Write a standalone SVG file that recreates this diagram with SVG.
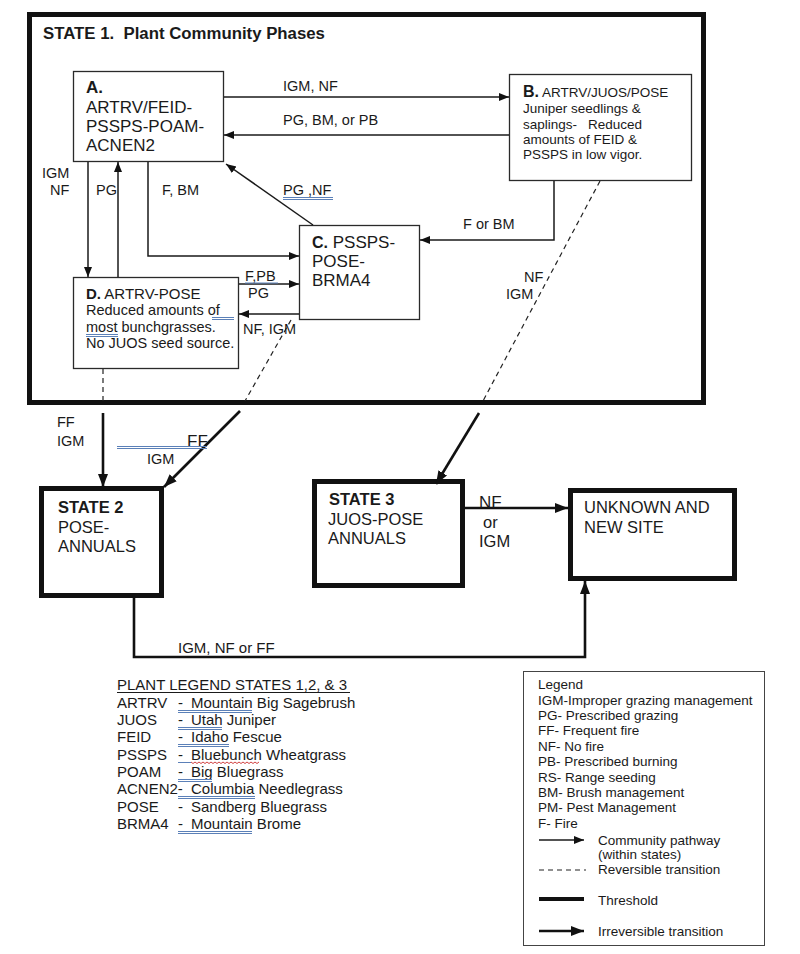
<svg xmlns="http://www.w3.org/2000/svg" width="800" height="954" viewBox="0 0 800 954">
<style>
text{font-family:"Liberation Sans",Arial,sans-serif;fill:#1a1a1a;}
.b{font-weight:bold;}
.box{fill:#fff;stroke:#2a2a2a;stroke-width:1.3;}
.state{fill:#fff;stroke:#111;stroke-width:5;}
.ln{fill:none;stroke:#1a1a1a;stroke-width:1.5;}
.tr{fill:none;stroke:#111;stroke-width:2.6;}
.ds{fill:none;stroke:#222;stroke-width:1.2;stroke-dasharray:5,4;}
.ul{stroke:#5b80b8;stroke-width:1;fill:none;}
.wv{stroke:#d04040;stroke-width:1;fill:none;}
.s14{font-size:14.5px;}
.s17{font-size:17px;}
.s16{font-size:16.5px;}
.s13{font-size:13.5px;}
.s15{font-size:15px;}
</style>
<defs>
<marker id="ah" markerUnits="userSpaceOnUse" markerWidth="11" markerHeight="9" refX="10" refY="4" orient="auto"><path d="M0,0 L10,4 L0,8 z" fill="#111"/></marker>
<marker id="ahb" markerUnits="userSpaceOnUse" markerWidth="14" markerHeight="11" refX="13" refY="5" orient="auto"><path d="M0,0 L13,5 L0,10 z" fill="#111"/></marker>
</defs>
<rect width="800" height="954" fill="#fff"/>

<g id="state1">
<rect class="state" x="29.5" y="14.5" width="674" height="388"/>
<text class="b" x="43" y="39" font-size="16.8" xml:space="preserve">STATE 1.  Plant Community Phases</text>
</g>

<g id="nodeA">
<rect class="box" x="73.5" y="71.5" width="150" height="90"/>
<text class="b s17" x="86" y="93">A.</text>
<text class="s17" x="86" y="113">ARTRV/FEID-</text>
<text class="s17" x="86" y="132">PSSPS-POAM-</text>
<text class="s17" x="86" y="151">ACNEN2</text>
</g>

<g id="nodeB">
<rect class="box" x="509.5" y="74.5" width="182" height="106"/>
<text x="523" y="97"><tspan class="b" font-size="16">B.</tspan><tspan class="s13" xml:space="preserve"> ARTRV/JUOS/POSE</tspan></text>
<text class="s13" x="523" y="113">Juniper seedlings &amp;</text>
<text class="s13" x="523" y="129">saplings-<tspan x="588">Reduced</tspan></text>
<text class="s13" x="523" y="144">amounts of FEID &amp;</text>
<text class="s13" x="523" y="159">PSSPS in low vigor.</text>
</g>

<g id="nodeC">
<rect class="box" x="299.5" y="225.5" width="120" height="94"/>
<text x="312" y="248"><tspan class="b" font-size="16">C.</tspan><tspan class="s17" xml:space="preserve"> PSSPS-</tspan></text>
<text class="s17" x="312" y="267">POSE-</text>
<text class="s17" x="312" y="286">BRMA4</text>
</g>

<g id="nodeD">
<rect class="box" x="73.5" y="277.5" width="165" height="91"/>
<text class="s15" x="86" y="299"><tspan class="b">D.</tspan> ARTRV-POSE</text>
<text class="s14" x="86" y="315">Reduced amounts of</text>
<text class="s14" x="86" y="332">most bunchgrasses.</text>
<text class="s14" x="86" y="348">No JUOS seed source.</text>
<path class="ul" d="M212,317.5 H234 M212,319.5 H234 M86,334.5 H118 M86,336.5 H118"/>
</g>

<g id="state2">
<rect class="state" x="41.5" y="488.5" width="120" height="107"/>
<text class="b s16" x="58" y="513">STATE 2</text>
<text class="s16" x="58" y="533">POSE-</text>
<text class="s16" x="58" y="552">ANNUALS</text>
</g>

<g id="state3">
<rect class="state" x="314.5" y="481.5" width="148" height="104"/>
<text class="b s16" x="329" y="505">STATE 3</text>
<text class="s16" x="328" y="525">JUOS-POSE</text>
<text class="s16" x="328" y="544">ANNUALS</text>
</g>

<g id="unknown">
<rect class="state" x="570.5" y="490.5" width="164" height="88"/>
<text class="s16" x="584" y="513">UNKNOWN AND</text>
<text class="s16" x="584" y="533">NEW SITE</text>
</g>

<g id="connectors">
<line class="ln" x1="224" y1="97" x2="509" y2="97" marker-end="url(#ah)"/>
<line class="ln" x1="509" y1="135" x2="224" y2="135" marker-end="url(#ah)"/>
<line class="ln" x1="88" y1="162" x2="88" y2="277" marker-end="url(#ah)"/>
<line class="ln" x1="118" y1="277" x2="118" y2="162" marker-end="url(#ah)"/>
<polyline class="ln" points="148,162 148,256 299,256" marker-end="url(#ah)"/>
<line class="ln" x1="313" y1="225" x2="226" y2="164" marker-end="url(#ah)"/>
<polyline class="ln" points="554,181 554,240 420,240" marker-end="url(#ah)"/>
<line class="ln" x1="239" y1="284" x2="299" y2="284" marker-end="url(#ah)"/>
<line class="ln" x1="299" y1="314" x2="239" y2="314" marker-end="url(#ah)"/>

<line class="ds" x1="103" y1="369" x2="103" y2="401"/>
<line class="tr" x1="103" y1="413" x2="103" y2="487" marker-end="url(#ahb)"/>
<line class="ds" x1="291" y1="320" x2="245" y2="401"/>
<line class="tr" x1="240" y1="411" x2="164" y2="487" marker-end="url(#ahb)"/>
<line class="ds" x1="600" y1="181" x2="483" y2="401"/>
<line class="tr" x1="479" y1="413" x2="436" y2="484" marker-end="url(#ahb)"/>
<line class="tr" x1="465" y1="508" x2="568" y2="508" marker-end="url(#ahb)"/>
<polyline class="tr" stroke-width="2" points="134,598 134,657 585,657 585,581" marker-end="url(#ahb)"/>

<text class="s14" x="283" y="91">IGM, NF</text>
<text class="s14" x="283" y="125">PG, BM, or PB</text>
<text class="s14" x="42" y="178">IGM</text>
<text class="s14" x="50" y="195">NF</text>
<text class="s14" x="96" y="195">PG</text>
<text class="s14" x="162" y="195">F, BM</text>
<text class="s14" x="283" y="195">PG ,NF</text>
<path class="ul" d="M283,197.5 H333 M283,199.5 H333"/>
<text class="s14" x="463" y="229">F or BM</text>
<text class="s14" x="245" y="281">F,PB</text>
<path class="ul" d="M245,283 H278"/>
<text class="s14" x="248" y="298">PG</text>
<text class="s14" x="243" y="334">NF, IGM</text>
<text class="s14" x="524" y="282">NF</text>
<text class="s14" x="506" y="299">IGM</text>
<text class="s14" x="57" y="427">FF</text>
<text class="s14" x="57" y="446">IGM</text>
<text class="s17" x="187" y="447">FF</text>
<path class="ul" d="M117,446.5 H207 M117,448.5 H207"/>
<text class="s14" x="147" y="464">IGM</text>
<text class="s17" x="479" y="508">NF</text>
<text class="s16" x="483" y="528">or</text>
<text class="s16" x="479" y="547">IGM</text>
<text class="s15" x="178" y="653">IGM, NF or FF</text>
</g>

<g id="plant-legend">
<text class="s15" x="117" y="690">PLANT LEGEND STATES 1,2, &amp; 3</text>
<line x1="117" y1="692.5" x2="350" y2="692.5" stroke="#1a1a1a" stroke-width="1"/>
<text class="s15" x="117" y="708">ARTRV</text><text class="s15" x="178" y="708">-</text><text class="s15" x="191" y="708">Mountain Big Sagebrush</text>
<text class="s15" x="117" y="725">JUOS</text><text class="s15" x="178" y="725">-</text><text class="s15" x="191" y="725">Utah Juniper</text>
<text class="s15" x="117" y="742">FEID</text><text class="s15" x="178" y="742">-</text><text class="s15" x="191" y="742">Idaho Fescue</text>
<text class="s15" x="117" y="760">PSSPS</text><text class="s15" x="178" y="760">-</text><text class="s15" x="191" y="760">Bluebunch Wheatgrass</text>
<text class="s15" x="117" y="777">POAM</text><text class="s15" x="178" y="777">-</text><text class="s15" x="191" y="777">Big Bluegrass</text>
<text class="s15" x="117" y="794">ACNEN2-</text><text class="s15" x="191" y="794">Columbia Needlegrass</text>
<text class="s15" x="117" y="812">POSE</text><text class="s15" x="178" y="812">-</text><text class="s15" x="191" y="812">Sandberg Bluegrass</text>
<text class="s15" x="117" y="829">BRMA4</text><text class="s15" x="178" y="829">-</text><text class="s15" x="191" y="829">Mountain Brome</text>
<path class="ul" d="M178,710.5 H252 M178,712.5 H252 M178,727.5 H222 M178,729.5 H222 M178,744.5 H229 M178,746.5 H229 M178,762.5 H191 M178,779.5 H212 M178,781.5 H212 M178,796.5 H255 M178,798.5 H255 M178,831.5 H252 M178,833.5 H252"/>
<path class="wv" d="M191,762 l2,1.5 l2,-1.5 l2,1.5 l2,-1.5 l2,1.5 l2,-1.5 l2,1.5 l2,-1.5 l2,1.5 l2,-1.5 l2,1.5 l2,-1.5 l2,1.5 l2,-1.5 l2,1.5 l2,-1.5 l2,1.5 l2,-1.5 l2,1.5 l2,-1.5 l2,1.5 l2,-1.5 l2,1.5 l2,-1.5 l2,1.5 l2,-1.5 l2,1.5 l2,-1.5 l2,1.5 l2,-1.5 l2,1.5 l2,-1.5 l2,1.5 l2,-1.5"/>
</g>

<g id="legend">
<rect x="523.5" y="671.5" width="241" height="274" fill="#fff" stroke="#444" stroke-width="1"/>
<text class="s13" x="538" y="689">Legend</text>
<text class="s13" x="538" y="704.5">IGM-Improper grazing management</text>
<text class="s13" x="538" y="720">PG- Prescribed grazing</text>
<text class="s13" x="538" y="735">FF- Frequent fire</text>
<text class="s13" x="538" y="751">NF- No fire</text>
<text class="s13" x="538" y="766">PB- Prescribed burning</text>
<text class="s13" x="538" y="781.5">RS- Range seeding</text>
<text class="s13" x="538" y="797">BM- Brush management</text>
<text class="s13" x="538" y="812">PM- Pest Management</text>
<text class="s13" x="538" y="827.5">F- Fire</text>
<line class="ln" x1="539" y1="840" x2="584" y2="840" marker-end="url(#ah)"/>
<text class="s13" x="598" y="845">Community pathway</text>
<text class="s13" x="598" y="859">(within states)</text>
<line class="ds" stroke-dasharray="4,3.5" x1="539" y1="870" x2="586" y2="870"/>
<text class="s13" x="598" y="874">Reversible transition</text>
<line x1="539" y1="899" x2="584" y2="899" stroke="#111" stroke-width="4"/>
<text class="s13" x="598" y="905">Threshold</text>
<line class="tr" x1="539" y1="931" x2="584" y2="931" marker-end="url(#ahb)"/>
<text class="s13" x="598" y="936">Irreversible transition</text>
</g>
</svg>
